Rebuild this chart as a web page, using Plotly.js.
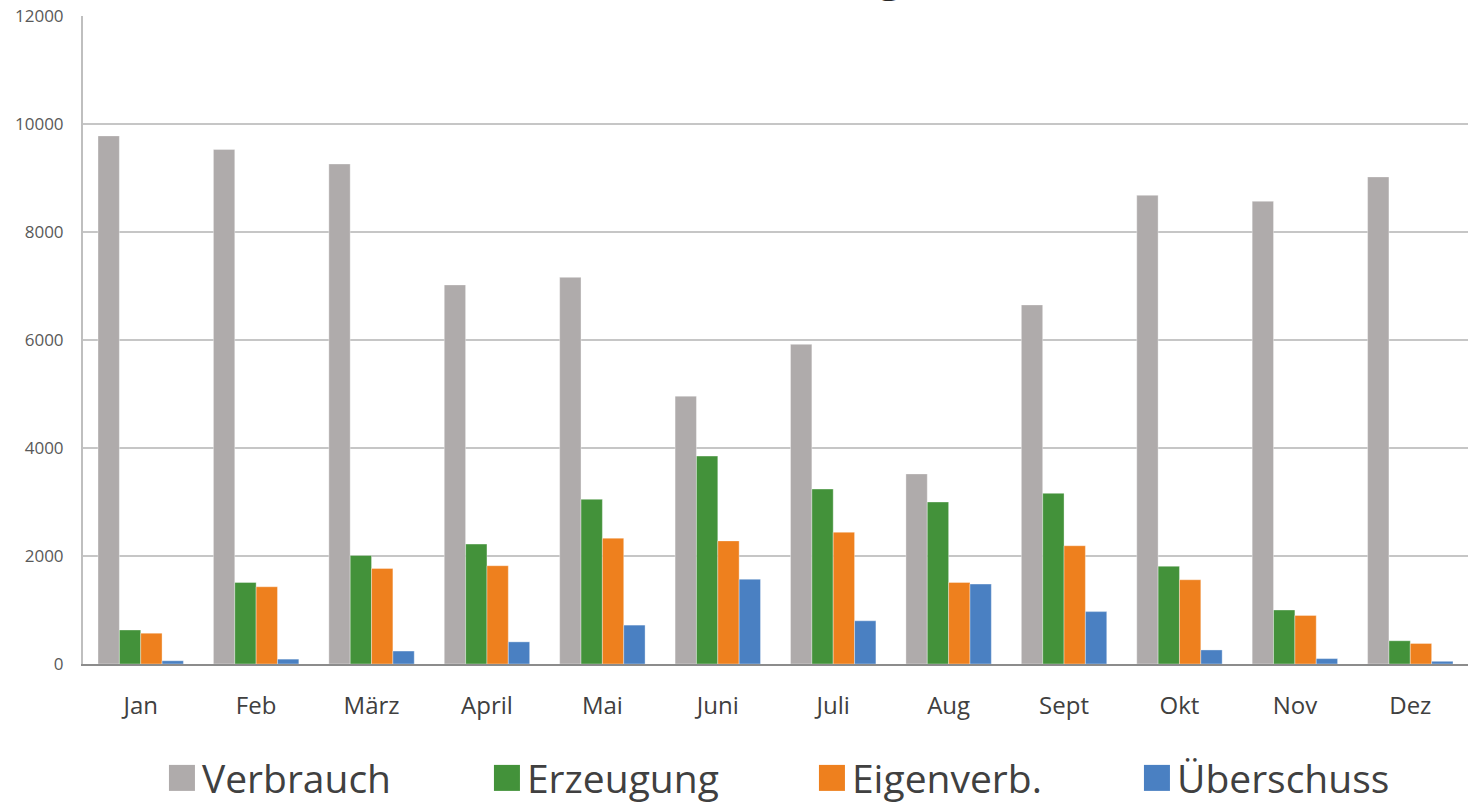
<!DOCTYPE html>
<html>
<head>
<meta charset="utf-8">
<script src="https://cdn.plot.ly/plotly-3.0.1.min.js"></script>
<style>
html,body{margin:0;padding:0;background:#fff;}
#chart{width:1470px;height:804px;}
</style>
</head>
<body>
<div id="chart"></div>
<script>
const months = ["Jan","Feb","März","April","Mai","Juni","Juli","Aug","Sept","Okt","Nov","Dez"];
const verbrauch = [9780,9530,9260,7020,7160,4960,5920,3520,6650,8680,8570,9020];
const erzeugung = [630,1510,2010,2220,3050,3850,3240,3000,3160,1810,1000,430];
const eigenverb = [570,1430,1770,1820,2330,2280,2440,1510,2190,1560,900,380];
const ueberschuss = [60,90,240,410,720,1570,800,1480,970,260,100,50];
const seriesNames = ["Verbrauch","Erzeugung","Eigenverb.","Überschuss"];
const seriesColors = ["#AFABAB","#43923A","#EE801E","#4A80C2"];
const yTicks = [0,2000,4000,6000,8000,10000,12000];
const titleText = "Auswertung";

const allValues = [verbrauch, erzeugung, eigenverb, ueberschuss];
const traces = allValues.map((vals, i) => ({
  type: "bar",
  name: seriesNames[i],
  x: months,
  y: vals,
  marker: {color: seriesColors[i], line: {color: "rgba(255,255,255,0.35)", width: 1}},
  hoverinfo: "x+y+name"
}));

const layout = {
  width: 1470, height: 804,
  paper_bgcolor: "#ffffff", plot_bgcolor: "#ffffff",
  margin: {l: 83, r: 2, t: 16, b: 140, autoexpand: false},
  font: {family: "Open Sans, sans-serif", color: "#404040"},
  annotations: [{
    text: "<b>" + titleText + "</b>",
    font: {family: "Open Sans, sans-serif", size: 40, color: "#262626"},
    x: 0.5036, xref: "paper", xanchor: "center",
    y: 1.0155, yref: "paper", yanchor: "bottom",
    showarrow: false
  }],
  barmode: "group",
  bargap: 0.26,
  bargroupgap: 0,
  xaxis: {
    type: "category",
    showgrid: false,
    showline: true, linecolor: "#8c8c8c", linewidth: 2,
    ticks: "", ticklabelstandoff: 19,
    tickfont: {size: 24, color: "#404040", family: "Open Sans, sans-serif"},
    zeroline: false
  },
  yaxis: {
    range: [0, 12000],
    tickvals: yTicks,
    ticktext: yTicks.map(String),
    showgrid: true, gridcolor: "#c6c6c6", gridwidth: 2,
    showline: true, linecolor: "#bfbfbf", linewidth: 2,
    zeroline: false,
    ticks: "", ticklabelstandoff: 14,
    tickfont: {size: 17, color: "#595959", family: "Open Sans, sans-serif"}
  },
  showlegend: true,
  legend: {
    orientation: "h",
    x: 0.057, xanchor: "left",
    y: -0.176, yanchor: "middle",
    entrywidth: 280,
    font: {size: 39, color: "#404040", family: "Open Sans, sans-serif"},
    itemclick: false, itemdoubleclick: false,
    bgcolor: "rgba(0,0,0,0)"
  }
};

Plotly.newPlot("chart", traces, layout, {displayModeBar: false, staticPlot: true}).then(() => {
  document.querySelectorAll("#chart .legendpoints path").forEach(p => {
    p.setAttribute("d", "M13,13H-13V-13H13Z");
    p.style.strokeWidth = "0";
  });
});
</script>
</body>
</html>
